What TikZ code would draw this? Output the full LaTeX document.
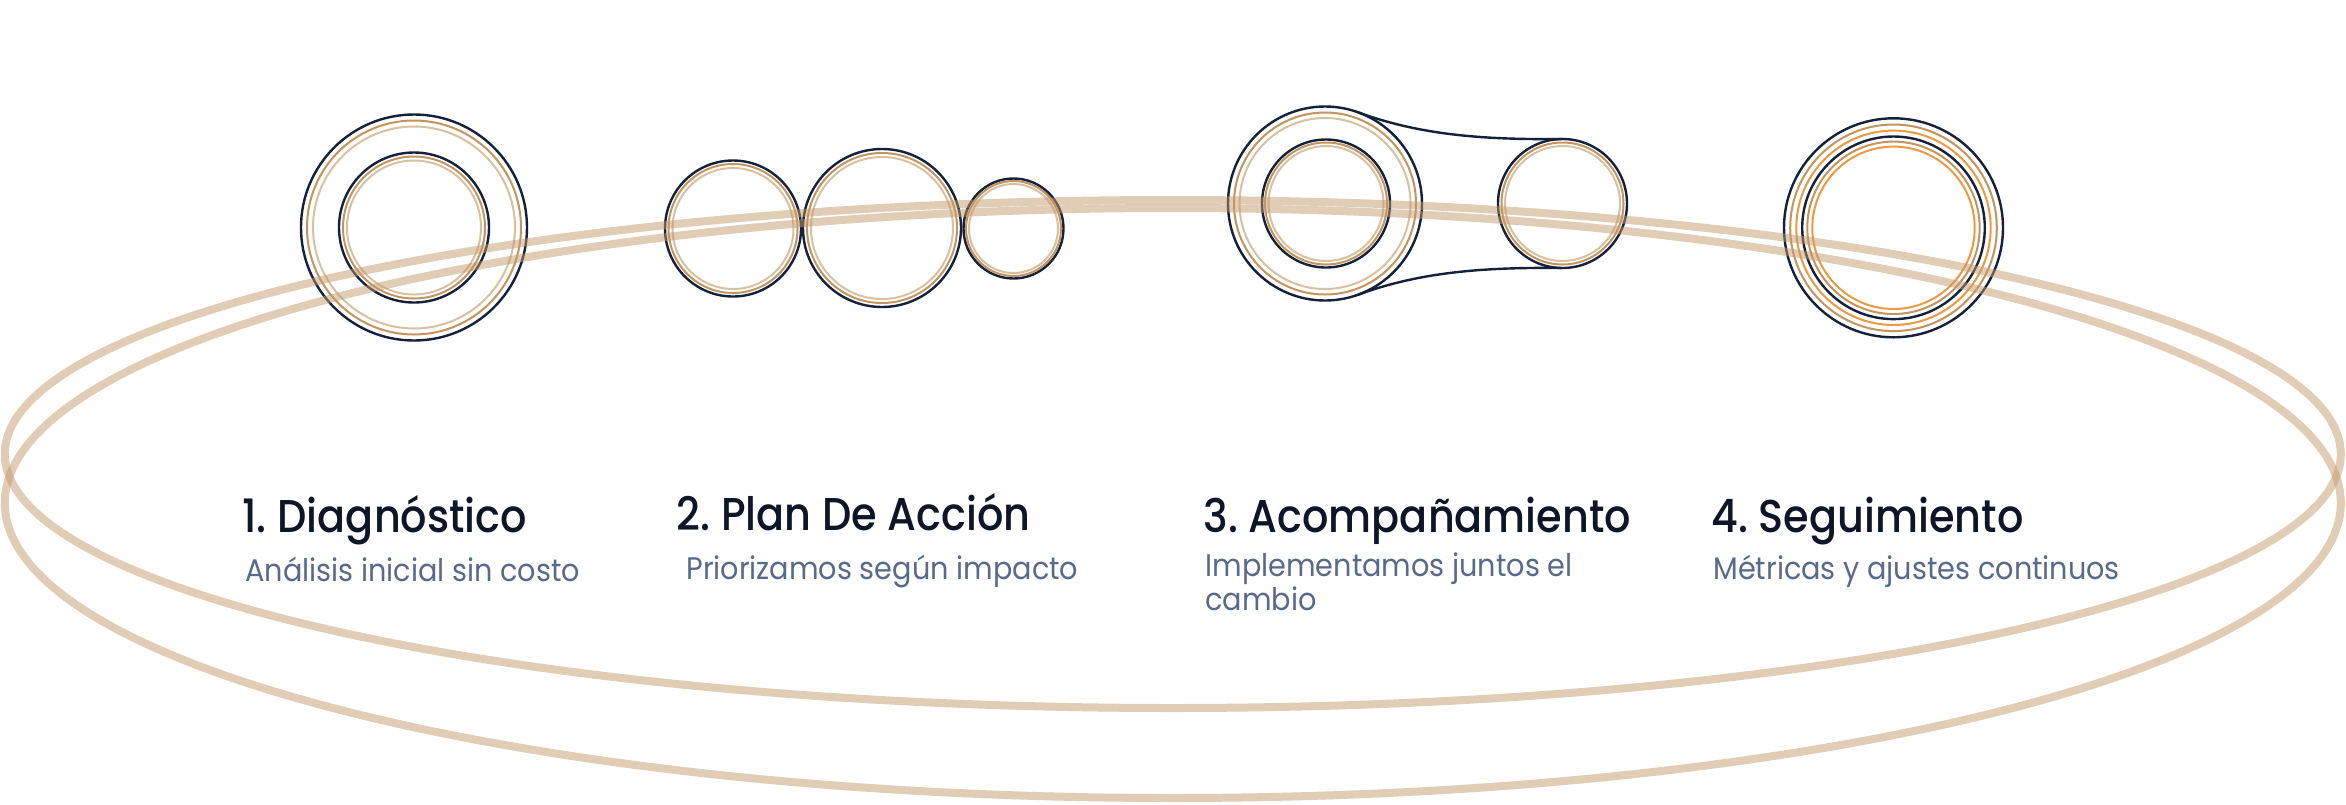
\documentclass[tikz,border=0pt]{standalone}
\usepackage{fontspec}
\setmainfont{Poppins}
\newfontfamily\ttlfont{Poppins Medium}[FakeStretch=0.9]
\newfontfamily\dscfont{Poppins}[FakeStretch=0.92]
\usetikzlibrary{calc}
\definecolor{navy}{HTML}{14213A}
\definecolor{tanA}{HTML}{C4945F}
\definecolor{tanB}{HTML}{D6C1A3}
\definecolor{orng}{HTML}{EA9A45}
\definecolor{band}{HTML}{C49A6C}
\definecolor{ttlc}{HTML}{0E1526}
\definecolor{dscc}{HTML}{58698A}
\begin{document}
\begin{tikzpicture}[x=0.5pt,y=-0.5pt,
  blk/.style={circle, draw=navy, line width=1.2pt, inner sep=0pt, outer sep=0pt},
  ringA/.style={draw=tanA, line width=1pt},
  ringB/.style={draw=tanB, line width=1pt},
  ringO/.style={draw=orng, line width=1pt},
  link/.style={draw=navy, line width=1.2pt},
  bandline/.style={draw=band, draw opacity=0.5, line width=4pt},
  ttl/.style={anchor=base west, inner sep=0pt, text=ttlc, font=\ttlfont\fontsize{23}{27}\selectfont},
  dsc/.style={anchor=base west, inner sep=0pt, text=dscc, font=\dscfont\fontsize{15.6}{15.5}\selectfont, align=left}]
\fill[white] (0,0) rectangle (2346,804);
\useasboundingbox (0,0) rectangle (2346,804);

% ---- group 1
\node[blk, minimum size=113pt] (g1o) at (414,227.5) {};
\draw[ringA] (g1o.center) circle[radius=107];
\draw[ringB] (g1o.center) circle[radius=101];
\node[blk, minimum size=75pt] (g1i) at (414,227.5) {};
\draw[ringA] (g1i.center) circle[radius=71];
\draw[ringB] (g1i.center) circle[radius=67];

% ---- group 2
\node[blk, minimum size=68pt] (g2a) at (733,228.5) {};
\draw[ringA] (g2a.center) circle[radius=64.5];
\draw[ringB] (g2a.center) circle[radius=60.5];
\node[blk, minimum size=79pt] (g2b) at (882,228) {};
\draw[ringA] (g2b.center) circle[radius=75];
\draw[ringB] (g2b.center) circle[radius=71];
\node[blk, minimum size=50pt] (g2c) at (1013.5,228.5) {};
\draw[ringA] (g2c.center) circle[radius=47.5];
\draw[ringB] (g2c.center) circle[radius=44.5];

% ---- group 3
\node[blk, minimum size=97pt] (g3o) at (1325,203.5) {};
\draw[ringA] (g3o.center) circle[radius=91];
\draw[ringB] (g3o.center) circle[radius=85.5];
\node[blk, minimum size=64pt] (g3i) at (1326,203.5) {};
\draw[ringA] (g3i.center) circle[radius=61];
\draw[ringB] (g3i.center) circle[radius=57.5];
\node[blk, minimum size=64.5pt] (g3r) at (1562.5,203.5) {};
\draw[ringA] (g3r.center) circle[radius=61];
\draw[ringB] (g3r.center) circle[radius=57.5];
\draw[link] (g3o.70) .. controls ($(g3o.70)+(60,22)$) and ($(g3r.north)+(-82,1)$) .. (g3r.north);
\draw[link] (g3o.-70) .. controls ($(g3o.-70)+(60,-22)$) and ($(g3r.south)+(-82,-1)$) .. (g3r.south);

% ---- group 4
\node[blk, minimum size=109.5pt] (g4o) at (1893.5,227.8) {};
\draw[ringA] (g4o.center) circle[radius=103.3];
\draw[ringO] (g4o.center) circle[radius=97.2];
\node[blk, minimum size=91.3pt] (g4i) at (1893.5,227.8) {};
\draw[ringA] (g4i.center) circle[radius=86.2];
\draw[ringO] (g4i.center) circle[radius=81.2];

% ---- orbit bands
\draw[bandline] (1172.8,454) ellipse[x radius=1168, y radius=254];
\draw[bandline] (1172.8,503) ellipse[x radius=1168, y radius=295];

% ---- texts
\node[ttl] (t1) at (242,532) {1.\ Diagnóstico};
\node[dsc] (d1) at (245,581) {Análisis inicial sin costo};
\node[ttl] (t2) at (676,530) {2.\ Plan De Acción};
\node[dsc] (d2) at (686,579) {Priorizamos según impacto};
\node[ttl] (t3) at (1203,532) {3.\ Acompañamiento};
\node[dsc] (d3) at (1205,610) {Implementamos juntos el\\cambio};
\node[ttl] (t4) at (1711,532) {4.\ Seguimiento};
\node[dsc] (d4) at (1713,579) {Métricas y ajustes continuos};
\end{tikzpicture}
\end{document}
